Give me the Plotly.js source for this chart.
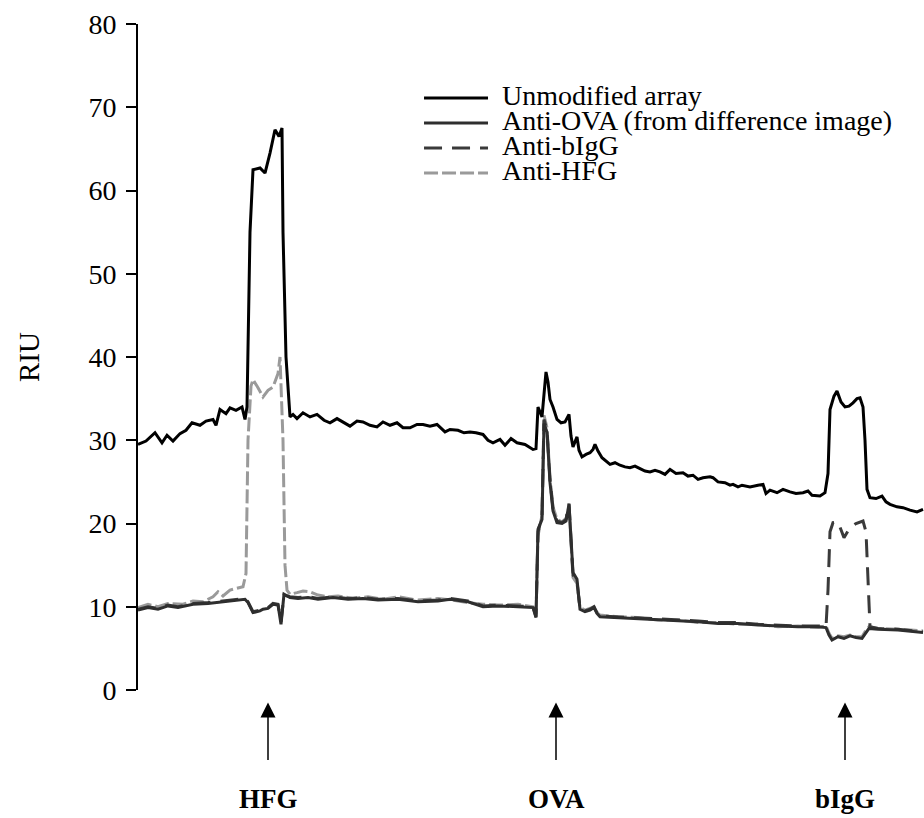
<!DOCTYPE html>
<html>
<head>
<meta charset="utf-8">
<script src="https://cdn.plot.ly/plotly-3.0.1.min.js"></script>
<style>html,body{margin:0;padding:0;background:#fff}#chart{width:924px;height:818px}</style>
</head>
<body>
<div id="chart"></div>
<script>
// Position along the scanned line (arbitrary units, 0..786)
const unmodX = [0,8,17,24,29,35,42,48,54,62,68,75,78,82,88,92,98,104,107,109,112,115,122,127,132,137,141,144,145,148,152,155,159,165,172,179,186,192,199,205,212,219,225,232,239,245,252,259,265,272,279,285,292,299,307,312,320,326,332,338,345,350,355,362,367,373,379,387,395,398,400,402,404,406,408,410,412,415,419,423,427,431,433,435,439,441,444,448,452,455,457,460,464,472,477,482,487,492,497,502,507,512,517,522,527,532,538,545,550,555,560,565,572,575,580,587,592,595,600,604,612,620,625,628,632,639,645,652,658,665,670,674,682,687,690,692,696,699,703,707,711,715,719,722,725,727,729,732,738,744,748,752,759,765,772,779,785];
const unmodY = [29.5,29.9,30.9,29.7,30.6,29.9,30.8,31.2,32.1,31.8,32.3,32.5,31.8,33.7,33.2,33.9,33.6,34.0,32.5,34.0,55.0,62.5,62.7,62.1,64.5,67.3,66.5,67.5,55.0,40.0,32.8,33.1,32.6,33.3,32.8,33.1,32.4,32.1,32.6,32.2,31.7,32.3,32.2,31.8,31.6,32.2,31.8,32.1,31.5,31.5,31.9,31.9,31.7,31.9,31.0,31.3,31.2,30.9,31.0,30.9,30.7,30.0,29.7,30.1,29.4,30.2,29.7,29.5,28.9,29.0,34.0,33.4,32.8,35.5,38.2,37.0,34.9,34.0,32.5,32.1,32.2,33.1,30.5,29.2,30.4,28.8,28.0,28.3,28.5,28.9,29.5,28.7,27.9,27.1,27.3,27.0,26.8,26.7,26.9,26.6,26.3,26.2,26.4,26.2,25.9,26.5,26.0,26.1,25.7,25.8,25.3,25.5,25.6,25.5,25.0,24.9,24.6,24.7,24.4,24.6,24.4,24.6,24.7,23.6,24.0,23.7,24.1,23.8,23.6,23.7,23.9,23.4,23.3,23.7,26.0,33.7,35.3,35.9,34.6,34.0,34.1,34.5,35.0,35.1,34.0,30.0,24.1,23.1,23.0,23.3,22.6,22.3,22.0,21.9,21.6,21.4,21.7];

const ovaX = [0,10,20,30,40,55,70,85,100,107,110,115,122,125,130,135,140,143,146,152,160,170,180,195,210,225,240,260,280,300,312,330,345,360,380,395,398,400,404,406,409,412,415,419,424,428,431,433,435,439,442,447,452,456,459,462,480,500,520,540,560,580,600,620,640,660,680,688,691,694,700,706,712,718,724,728,731,740,760,785];
const ovaY = [9.6,9.9,9.7,10.1,9.9,10.3,10.4,10.6,10.8,10.9,10.5,9.3,9.5,9.7,9.8,10.3,10.2,7.9,11.5,11.1,11.0,11.1,10.9,11.1,10.9,11.0,10.8,10.9,10.6,10.7,10.9,10.6,10.0,10.1,10.0,9.9,8.7,19.3,20.5,32.0,31.0,24.9,21.5,20.1,20.0,20.3,22.3,18.0,14.1,13.3,9.7,9.4,9.6,9.9,9.2,8.8,8.7,8.6,8.5,8.3,8.2,8.0,8.0,7.8,7.7,7.6,7.6,7.5,6.6,6.0,6.4,6.2,6.5,6.3,6.2,6.9,7.4,7.3,7.2,6.9];

const bigX = [0,10,20,30,40,55,70,85,100,107,110,115,122,125,130,135,140,143,146,152,160,170,180,195,210,225,240,260,280,300,312,330,345,360,380,395,398,400,404,406,409,412,415,419,424,428,431,433,435,439,442,447,452,456,459,462,480,500,520,540,560,580,600,620,640,660,680,688,690,692,695,700,706,712,718,722,725,728,730,732,740,760,785];
const bigY = [9.7,10.0,9.8,10.2,10.0,10.4,10.5,10.7,10.9,11.0,10.6,9.4,9.6,9.8,9.9,10.4,10.3,8.2,11.4,11.2,11.1,11.2,11.0,11.2,11.0,11.1,10.9,11.0,10.7,10.8,11.0,10.7,10.1,10.2,10.1,10.0,8.8,19.0,20.8,32.5,31.2,25.2,21.8,20.3,20.1,20.5,22.4,17.5,13.8,13.0,9.8,9.5,9.7,10.0,9.3,8.9,8.8,8.7,8.6,8.4,8.3,8.1,8.1,7.9,7.8,7.7,7.7,7.6,12.0,19.0,20.1,20.2,18.3,19.5,20.0,20.2,20.3,19.0,12.0,7.6,7.4,7.3,7.0];

const hfgX = [0,10,20,30,45,55,65,75,80,85,92,100,105,108,110,113,115,120,125,130,135,140,142,145,147,149,152,159,165,172,180,190,200,215,230,245,260,280,300,315,330,345,360,380,395,398,400,404,406,409,412,415,419,424,428,431,433,435,439,442,447,452,456,459,462,480,500,520,540,560,580,600,620,640,660,680,688,691,694,700,706,712,718,724,728,731,740,760,785];
const hfgY = [9.9,10.3,10.0,10.4,10.3,10.7,10.6,11.2,11.8,11.3,12.0,12.2,12.4,14.0,30.0,36.5,37.3,36.3,35.2,36.0,36.4,38.0,40.0,30.0,15.0,12.0,11.5,11.7,11.9,11.8,11.4,11.2,11.3,11.0,11.2,10.9,11.2,10.8,11.0,10.8,10.5,10.3,10.2,10.3,10.0,9.0,18.5,21.0,33.0,31.5,25.5,22.0,20.5,20.2,20.6,22.0,17.0,13.5,12.8,9.9,9.6,9.8,10.0,9.3,9.0,8.8,8.7,8.4,8.4,8.1,8.1,7.9,7.9,7.6,7.7,7.5,7.7,6.8,6.2,6.5,6.4,6.6,6.4,6.4,7.2,7.6,7.4,7.3,7.1];

const yTicks = [0,10,20,30,40,50,60,70,80];
const markerPos = [130,418,707];
const markerLabels = ['HFG','OVA','bIgG'];
const seriesNames = ['Unmodified array','Anti-OVA (from difference image)','Anti-bIgG','Anti-HFG'];

const serif = 'Liberation Serif, Times New Roman, serif';
const styles = [
  {color:'#000000', width:3, dash:'solid'},
  {color:'#2e2e2e', width:3, dash:'solid'},
  {color:'#3a3a3a', width:3, dash:'18px,10px'},
  {color:'#9a9a9a', width:3, dash:'14px,4px'}
];
const xs = [unmodX, ovaX, bigX, hfgX];
const ys = [unmodY, ovaY, bigY, hfgY];
const order = [3,2,1,0];
const traces = order.map(i => ({
  x: xs[i], y: ys[i], type:'scatter', mode:'lines', name: seriesNames[i],
  line: {color: styles[i].color, width: styles[i].width, dash: styles[i].dash},
  showlegend:false, hoverinfo:'skip'
}));

const shapes = [];
const annotations = [];
// manual legend
const legX0 = 0.3639, legX1 = 0.4453, legTextX = 0.4606;
const legRows = [0.889, 0.8515, 0.814, 0.7764];
seriesNames.forEach((nm, i) => {
  shapes.push({type:'line', xref:'paper', yref:'paper', x0:legX0, x1:legX1, y0:legRows[i], y1:legRows[i],
    line:{color:styles[i].color, width:styles[i].width, dash:styles[i].dash}});
  annotations.push({xref:'paper', yref:'paper', x:legTextX, y:legRows[i]+0.004, xanchor:'left', yanchor:'middle',
    text:nm, showarrow:false, font:{family:serif, size:28, color:'#000'}});
});
// arrows and labels under the axis
markerPos.forEach((p, i) => {
  annotations.push({xref:'x', yref:'paper', x:p, y:-0.0188, ax:0, ay:59, axref:'pixel', ayref:'pixel',
    text:'', showarrow:true, arrowhead:2, arrowsize:2.0, arrowwidth:1.5, arrowcolor:'#000'});
  annotations.push({xref:'x', yref:'paper', x:p, y:-0.164, xanchor:'center', yanchor:'middle',
    text:'<b>'+markerLabels[i]+'</b>', showarrow:false, font:{family:serif, size:27, color:'#000'}});
});

const layout = {
  width:924, height:818,
  margin:{l:138, r:0, t:24, b:127.5, pad:0},
  paper_bgcolor:'#fff', plot_bgcolor:'#fff',
  showlegend:false,
  xaxis:{range:[0,786], visible:false, fixedrange:true},
  yaxis:{range:[0,80], tickvals:yTicks, ticktext:yTicks.map(String), showgrid:false, zeroline:false,
    showline:true, linecolor:'#000', linewidth:2, ticks:'outside', ticklen:10, tickwidth:2, tickcolor:'#000',
    ticklabelstandoff:4,
    tickfont:{family:serif, size:28, color:'#000'},
    title:{text:'RIU', font:{family:serif, size:29, color:'#000'}, standoff:40}, automargin:false},
  shapes: shapes,
  annotations: annotations
};
Plotly.newPlot('chart', traces, layout, {displayModeBar:false, staticPlot:true});
</script>
</body>
</html>
